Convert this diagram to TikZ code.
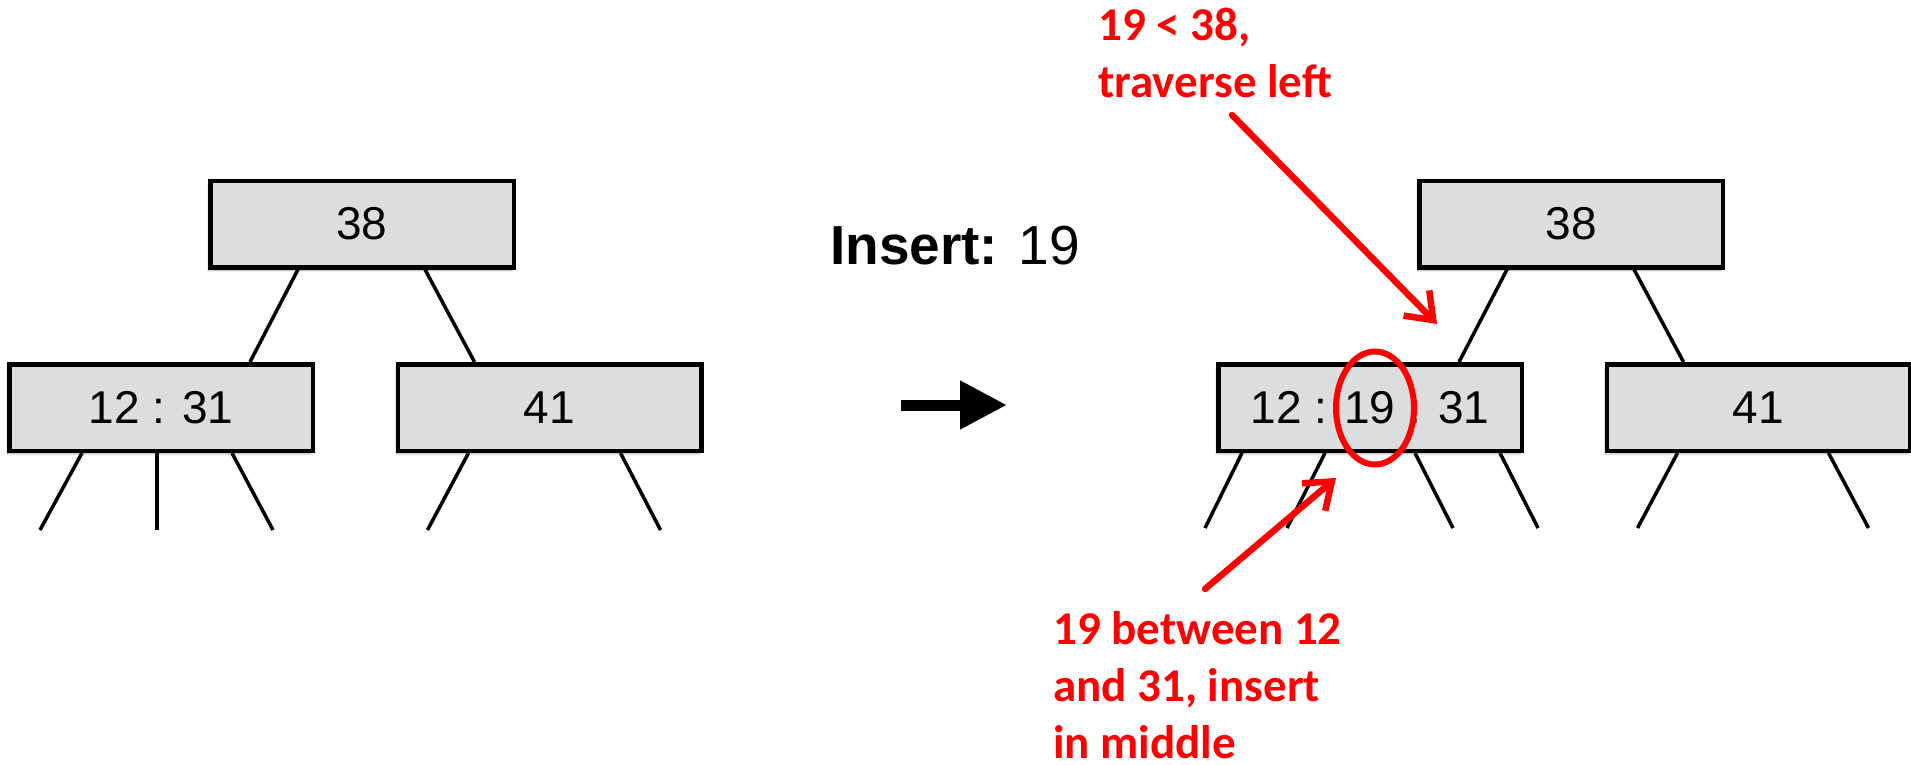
\documentclass[tikz,border=0pt]{standalone}
\usepackage{fontspec}
\setmainfont{Liberation Sans}
\newfontfamily\notefont{Carlito}
\usetikzlibrary{arrows.meta,shadows.blur,shapes.geometric}
\definecolor{nodegray}{HTML}{DCDDDF}
\definecolor{notered}{HTML}{FF0000}

\begin{document}
\begin{tikzpicture}[x=1pt,y=-1pt,
  keybox/.style={draw=black, line width=4.5pt, fill=nodegray,
    minimum width=303.5pt, minimum height=86.5pt, inner sep=0pt,
    font=\fontsize{46}{50}\selectfont,
    blur shadow={shadow xshift=-1.5pt, shadow yshift=-3pt,
      shadow blur steps=6, shadow opacity=35}},
  link/.style={line width=3.5pt, draw=black},
  note/.style={text=notered, font=\notefont\bfseries\fontsize{47}{57}\selectfont,
    align=left, inner sep=0pt, anchor=base west},
  pointer/.style={draw=notered, line width=6.5pt, line cap=round,
    -{Straight Barb[length=24pt,width=36pt]}}
]
\useasboundingbox (0,0) rectangle (1911,765);

% tree before the insertion
\node[keybox] (rootA)  at (362,224)    {38};
\node[keybox] (leftA)  at (161,407.5)  {12 : 31};
\node[keybox] (rightA) at (549.5,407.5) {41};

\draw[link] ([xshift=90pt]rootA.south west)  -- ([xshift=243pt]leftA.north west);
\draw[link] ([xshift=217pt]rootA.south west) -- ([xshift=79pt]rightA.north west);
\draw[link] ([xshift=75pt]leftA.south west)  -- ++(-42,77);
\draw[link] ([xshift=150pt]leftA.south west) -- ++(0,77);
\draw[link] ([xshift=225pt]leftA.south west) -- ++(41,77);
\draw[link] ([xshift=73pt]rightA.south west) -- ++(-41,77);
\draw[link] ([xshift=225pt]rightA.south west) -- ++(40,77);

% operation label and transition arrow
\node[anchor=base west, inner sep=0pt, font=\fontsize{55}{60}\selectfont]
  (ins) at (830,264) {\textbf{Insert:} 19};
\coordinate (go1) at (901,405);
\coordinate (go2) at (1007,405);
\draw[line width=11pt, -{Triangle[length=47pt,width=46pt]}] (go1) -- (go2);

% tree after the insertion
\node[keybox] (rootB)  at (1571,224)    {38};
\node[keybox] (leftB)  at (1370,407.5)  {12 : 19 : 31};
\node[keybox] (rightB) at (1758.5,407.5) {41};

\draw[link] ([xshift=90pt]rootB.south west)  -- ([xshift=243pt]leftB.north west);
\draw[link] ([xshift=217pt]rootB.south west) -- ([xshift=79pt]rightB.north west);
\draw[link] ([xshift=26pt]leftB.south west)  -- ++(-37,75);
\draw[link] ([xshift=109pt]leftB.south west) -- ++(-38,75);
\draw[link] ([xshift=199pt]leftB.south west) -- ++(38,75);
\draw[link] ([xshift=284pt]leftB.south west) -- ++(38,75);
\draw[link] ([xshift=73pt]rightB.south west) -- ++(-40,75);
\draw[link] ([xshift=224pt]rightB.south west) -- ++(40,75);

% highlight of the new key
\node[draw=notered, line width=6pt, ellipse, minimum width=78pt,
  minimum height=113pt, inner sep=0pt] (hl) at (1375,408) {};

% annotations (anchored on the baseline of their last line)
\node[note] (noteA) at (1098,98) {19 < 38,\\traverse left};
\node[note] (noteB) at (1053,758) {19 between 12\\and 31, insert\\in middle};

\coordinate (pA0) at (1232,115);
\coordinate (pA1) at (1437,324);
\draw[pointer] (pA0) -- (pA1);
\coordinate (pB0) at (1205,589);
\coordinate (pB1) at (1336,478);
\draw[pointer] (pB0) -- (pB1);
\end{tikzpicture}
\end{document}
